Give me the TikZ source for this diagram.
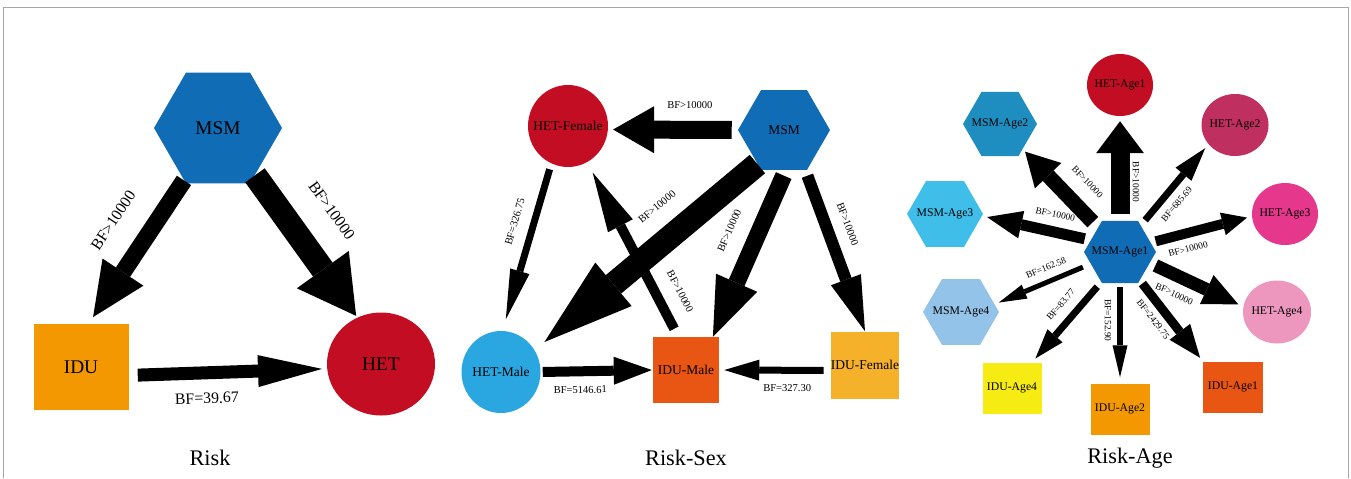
\documentclass[tikz,border=0pt]{standalone}
\usepackage{fontspec}
\setmainfont{Liberation Serif}
\usepackage{tikz}
\usetikzlibrary{arrows.meta}
\usetikzlibrary{shapes.geometric}
\definecolor{msmblue}{HTML}{106CB5}
\definecolor{hetred}{HTML}{C30D23}
\definecolor{iduorange}{HTML}{F39800}
\definecolor{hetmale}{HTML}{2AA6E0}
\definecolor{idumale}{HTML}{E95513}
\definecolor{idufemale}{HTML}{F6B12B}
\definecolor{hetagetwo}{HTML}{BF2F5F}
\definecolor{hetagethree}{HTML}{E5388C}
\definecolor{hetagefour}{HTML}{ED97BF}
\definecolor{msmagetwo}{HTML}{1E8EC1}
\definecolor{msmagethree}{HTML}{40BEEA}
\definecolor{msmagefour}{HTML}{93C3E9}
\definecolor{iduagefour}{HTML}{F7EB14}
\tikzset {
  % the name may run over the border, the shape keeps its size
  flat/.style = {inner sep=0pt,
    execute at begin node={\hbox to 0pt\bgroup\hss},
    execute at end node={\hss\egroup}},
  % MSM groups
  hexa/.style = {regular polygon, regular polygon sides=6, flat},
  % HET groups
  rnd/.style = {ellipse, flat},
  % IDU groups
  box/.style = {rectangle, inner sep=0pt},
  % block arrows: shaft, head width, head length
  flow/.style n args = {3}{line width=#1,
    -{Triangle[width=#2, length=#3, line width=0pt]}},
  % text sizes of the three panels
  txtA/.style = {font=\fontsize{16.5}{19}\selectfont},
  txtB/.style = {font=\fontsize{11.5}{13}\selectfont},
  txtC/.style = {font=\fontsize{10}{12}\selectfont},
  lblA/.style = {inner sep=0pt, font=\fontsize{13.5}{15}\selectfont},
  lblB/.style = {inner sep=0pt, font=\fontsize{9}{10}\selectfont},
  lblC/.style = {inner sep=0pt, font=\fontsize{8}{9}\selectfont},
  paneltitle/.style = {font=\fontsize{19}{22}\selectfont},
  frame/.style = {draw=black!35, line width=0.8pt},
}
\begin{document}
\begin{tikzpicture}[x=0.3mm, y=-0.3mm]
  \useasboundingbox (0,0) rectangle (1351,478);
  \draw[frame] (3,478) -- (3,7) -- (1348,7) -- (1348,478);

  % Risk
  \node[hexa, fill=msmblue, minimum size=38.4mm, txtA] (msm) at (218,128) {MSM};
  \node[box, fill=iduorange, minimum width=28.5mm, minimum height=25.8mm, txtA] (idu) at (81,367) {IDU};
  \node[rnd, fill=hetred, minimum width=32.4mm, minimum height=30.9mm, txtA] (het) at (381,364) {HET};

  \draw[flow={5.1mm}{14.7mm}{16.2mm}, shorten >=2.4mm] (msm.-123) -- node[lblA, pos=.42, sloped, above=6.9mm] {BF>10000} (idu.80);
  \draw[flow={7.2mm}{19.2mm}{17.1mm}, shorten >=0.6mm] (msm.-52) -- node[lblA, pos=.42, sloped, above=7.3mm] {BF>10000} (het.117);
  \draw[flow={3.9mm}{9.6mm}{19.2mm}, shorten <=2.7mm, shorten >=1.5mm] (idu.-10) -- node[lblA, pos=.39, sloped, below=4.1mm] {BF=39.67} (het.185);

  \node[paneltitle] (trisk) at (210,458) {Risk};

  % Risk-Sex
  \node[rnd, fill=hetred, minimum width=24mm, minimum height=24.6mm, txtB] (hetf) at (568,126) {HET-Female};
  \node[hexa, fill=msmblue, minimum size=27.6mm, txtB] (msmb) at (784,130) {MSM};
  \node[rnd, fill=hetmale, minimum width=23.7mm, minimum height=24.6mm, txtB] (hetm) at (501,372) {HET-Male};
  \node[box, fill=idumale, minimum width=19.8mm, minimum height=19.8mm, txtB] (idum) at (686,370) {IDU-Male};
  \node[box, fill=idufemale, minimum width=19.8mm, minimum height=20.1mm, txtB] (iduf) at (865,365) {IDU-Female};

  \draw[flow={5.4mm}{14.1mm}{12.3mm}, shorten <=1.8mm, shorten >=1.5mm] (msmb.west) -- node[lblB, pos=.37, sloped, above=3.7mm] {BF>10000} (hetf.-5);
  \draw[flow={7.2mm}{17mm}{27mm}, shorten >=3.8mm] (msmb.232) -- node[lblB, pos=.36, sloped, above=4.8mm] {BF>10000} (hetm.33);
  \draw[flow={5.1mm}{13.5mm}{17.7mm}, shorten <=1.8mm] (msmb.-87) -- node[lblB, pos=.43, sloped, above=4.7mm] {BF>10000} (idum.51);
  \draw[flow={3.6mm}{9.6mm}{16.5mm}, shorten <=1.8mm] (msmb.-62) -- node[lblB, pos=.38, sloped, above=3.4mm] {BF>10000} (iduf.north);
  \draw[flow={2.1mm}{6mm}{15mm}, shorten <=1.8mm, shorten >=3.6mm] (hetf.246) -- node[lblB, pos=.38, sloped, above=3.5mm] {BF=326.75} (hetm.88);
  \draw[flow={3mm}{8.4mm}{18mm}, shorten <=2.7mm, shorten >=3.5mm] (idum.103) -- node[lblB, pos=.2, sloped, above=4.2mm] {BF>10000} (hetf.-62);
  \draw[flow={3mm}{8.4mm}{11.4mm}, shorten <=0.6mm, shorten >=0.3mm] (hetm.east) -- node[lblB, pos=.35, sloped, below=3mm] {BF=5146.61} (idum.west);
  \draw[flow={2.1mm}{6.3mm}{10.5mm}, shorten <=2.1mm, shorten >=1.5mm] (iduf.189) -- node[lblB, pos=.39, sloped, below=3.3mm] {BF=327.30} (idum.east);

  \node[paneltitle] (trisksex) at (686,458) {Risk-Sex};

  % Risk-Age
  \node[hexa, fill=msmblue, minimum size=21.6mm, txtC] (ma1) at (1120,252) {MSM-Age1};
  \node[hexa, fill=msmagetwo, minimum size=22.2mm, txtC] (ma2) at (1000,124) {MSM-Age2};
  \node[hexa, fill=msmagethree, minimum size=22.8mm, txtC] (ma3) at (945,214) {MSM-Age3};
  \node[hexa, fill=msmagefour, minimum size=22.8mm, txtC] (ma4) at (961,312) {MSM-Age4};
  \node[rnd, fill=hetred, minimum width=19.8mm, minimum height=18.6mm, txtC] (ha1) at (1120,85) {HET-Age1};
  \node[rnd, fill=hetagetwo, minimum width=20.1mm, minimum height=18.6mm, txtC] (ha2) at (1235,125) {HET-Age2};
  \node[rnd, fill=hetagethree, minimum width=19.8mm, minimum height=18.6mm, txtC] (ha3) at (1285,214) {HET-Age3};
  \node[rnd, fill=hetagefour, minimum width=20.4mm, minimum height=18.9mm, txtC] (ha4) at (1277,312) {HET-Age4};
  \node[box, fill=iduagefour, minimum width=17.7mm, minimum height=15.3mm, txtC] (ia4) at (1012,388) {IDU-Age4};
  \node[box, fill=iduorange, minimum width=17.7mm, minimum height=15.3mm, txtC] (ia2) at (1120,409) {IDU-Age2};
  \node[box, fill=idumale, minimum width=18mm, minimum height=15.3mm, txtC] (ia1) at (1233,387) {IDU-Age1};

  \draw[flow={5.7mm}{14.4mm}{9.6mm}, shorten <=2.1mm, shorten >=1.5mm] (ma1.north) -- node[lblC, pos=.37, xshift=4.8mm, rotate=-90] {BF>10000} (ha1.south);
  \draw[flow={2.1mm}{6.2mm}{10.2mm}, shorten <=2mm, shorten >=1.5mm] (ma1.52) -- node[lblC, pos=.37, sloped, below=2.2mm] {BF=685.69} (ha2.216);
  \draw[flow={3mm}{7mm}{7.5mm}, shorten <=1.5mm, shorten >=1.5mm] (ma1.17) -- node[lblC, pos=.33, sloped, below=2.2mm] {BF>10000} (ha3.184);
  \draw[flow={3.9mm}{9.6mm}{10.5mm}, shorten <=1.8mm, shorten >=1.6mm] (ma1.-20) -- node[lblC, pos=.34, sloped, below=2.4mm] {BF>10000} (ha4.171);
  \draw[flow={2.7mm}{7.8mm}{9.9mm}, shorten <=1.2mm, shorten >=1.3mm] (ma1.-55) -- node[lblC, pos=.38, sloped, below=1.7mm] {BF=2429.75} (ia1.north west);
  \draw[flow={1.8mm}{4.5mm}{9.6mm}, shorten <=1.2mm, shorten >=1.8mm] (ma1.south) -- node[lblC, pos=.37, xshift=-3.6mm, rotate=-90] {BF=152.90} (ia2.north);
  \draw[flow={2.1mm}{6mm}{9mm}, shorten <=1.8mm, shorten >=1.5mm] (ma1.238) -- node[lblC, pos=.41, sloped, above=2.8mm] {BF=83.77} (ia4.52);
  \draw[flow={1.5mm}{4.5mm}{8.4mm}, shorten <=2.5mm, shorten >=1.3mm] (ma1.202) -- node[lblC, pos=.41, sloped, above=2.4mm] {BF=162.58} (ma4.13);
  \draw[flow={3.3mm}{8.4mm}{10.5mm}, shorten <=1.8mm, shorten >=1.5mm] (ma1.158) -- node[lblC, pos=.36, sloped, above=2.6mm] {BF>10000} (ma3.-3);
  \draw[flow={4.5mm}{11mm}{10mm}, shorten <=2.2mm, shorten >=1mm] (ma1.132) -- node[lblC, pos=.37, sloped, above=4mm] {BF>10000} (ma2.-48);

  \node[paneltitle] (triskage) at (1130,458) {Risk-Age};
\end{tikzpicture}
\end{document}
